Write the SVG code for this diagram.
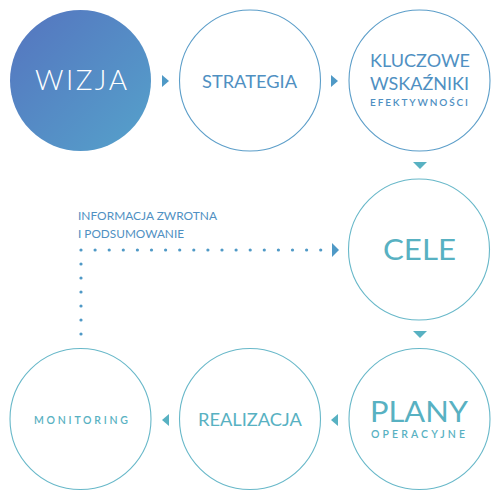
<svg xmlns="http://www.w3.org/2000/svg" width="500" height="500" viewBox="0 0 500 500">
<defs>
<linearGradient id="g" x1="0" y1="0" x2="1" y2="1">
<stop offset="0" stop-color="#5574bf"/>
<stop offset="1" stop-color="#55a2cb"/>
</linearGradient>
<style>
text{font-family:Lato,"Open Sans","DejaVu Sans",sans-serif}
.cb{fill:#fff;stroke:#5c9ec9;stroke-width:1.1}
.ct{fill:#fff;stroke:#68b8c9;stroke-width:1.1}
.b{fill:#4f90c2}
.t{fill:#58b1c2}
.s{font-weight:600}
.ab{fill:#4f99c6}
.at{fill:#58b1c2}
.dot{fill:#4f99c6}
</style>
</defs>
<g id="connectors">
<polygon class="ab" points="162,75 169,81 162,87"/>
<polygon class="ab" points="331,75 338,81 331,87"/>
<polygon class="at" points="413,162 427,162 420,169"/>
<polygon class="at" points="413,331 427,331 420,338"/>
<polygon class="at" points="169,414 162,420 169,426"/>
<polygon class="at" points="338,414 331,420 338,426"/>
<g class="dot">
<circle cx="81" cy="250" r="1.6"/><circle cx="95.1" cy="250" r="1.6"/><circle cx="109.2" cy="250" r="1.6"/><circle cx="123.3" cy="250" r="1.6"/><circle cx="137.4" cy="250" r="1.6"/><circle cx="151.5" cy="250" r="1.6"/><circle cx="165.6" cy="250" r="1.6"/><circle cx="179.7" cy="250" r="1.6"/><circle cx="193.8" cy="250" r="1.6"/><circle cx="207.9" cy="250" r="1.6"/><circle cx="222" cy="250" r="1.6"/><circle cx="236.1" cy="250" r="1.6"/><circle cx="250.2" cy="250" r="1.6"/><circle cx="264.3" cy="250" r="1.6"/><circle cx="278.4" cy="250" r="1.6"/><circle cx="292.5" cy="250" r="1.6"/><circle cx="306.6" cy="250" r="1.6"/><circle cx="320.7" cy="250" r="1.6"/>
<circle cx="81" cy="264" r="1.6"/><circle cx="81" cy="278" r="1.6"/><circle cx="81" cy="292" r="1.6"/><circle cx="81" cy="306" r="1.6"/><circle cx="81" cy="320" r="1.6"/><circle cx="81" cy="334" r="1.6"/>
</g>
<polygon class="ab" points="332,243 339,250 332,257"/>
<text x="78" y="219.5" font-size="11.5" class="b" textLength="139" lengthAdjust="spacingAndGlyphs">INFORMACJA ZWROTNA</text>
<text x="78" y="238" font-size="11.5" class="b" textLength="106" lengthAdjust="spacingAndGlyphs">I PODSUMOWANIE</text>
</g>
<g id="wizja">
<circle cx="80.5" cy="80.5" r="70.5" fill="url(#g)"/>
<text x="35" y="90" font-size="28" font-weight="300" fill="#fff" textLength="92" lengthAdjust="spacing">WIZJA</text>
</g>
<g id="strategia">
<circle class="cb" cx="250" cy="80.5" r="70.5"/>
<text x="202" y="87.5" font-size="18" class="b" textLength="95" lengthAdjust="spacingAndGlyphs">STRATEGIA</text>
</g>
<g id="kluczowe">
<circle class="cb" cx="419.5" cy="80.5" r="70.5"/>
<text x="370" y="67" font-size="17" class="b" textLength="100" lengthAdjust="spacingAndGlyphs">KLUCZOWE</text>
<text x="370" y="90" font-size="17" class="b" textLength="99" lengthAdjust="spacingAndGlyphs">WSKAŹNIKI</text>
<text x="370" y="106" font-size="10" class="b s" textLength="98" lengthAdjust="spacing">EFEKTYWNOŚCI</text>
</g>
<g id="cele">
<circle class="ct" cx="419" cy="249.5" r="70.5"/>
<text x="383" y="260" font-size="29" class="t" textLength="73" lengthAdjust="spacingAndGlyphs">CELE</text>
</g>
<g id="plany">
<circle class="ct" cx="419.5" cy="419" r="70.5"/>
<text x="370" y="421.7" font-size="29" class="t" textLength="98" lengthAdjust="spacingAndGlyphs">PLANY</text>
<text x="371" y="437.8" font-size="10.5" class="t s" textLength="94" lengthAdjust="spacing">OPERACYJNE</text>
</g>
<g id="realizacja">
<circle class="ct" cx="250" cy="419" r="70.5"/>
<text x="198" y="426" font-size="17" class="t" textLength="104" lengthAdjust="spacingAndGlyphs">REALIZACJA</text>
</g>
<g id="monitoring">
<circle class="ct" cx="80.5" cy="419" r="70.5"/>
<text x="34" y="423.5" font-size="10.5" class="t s" textLength="94" lengthAdjust="spacing">MONITORING</text>
</g>
</svg>
